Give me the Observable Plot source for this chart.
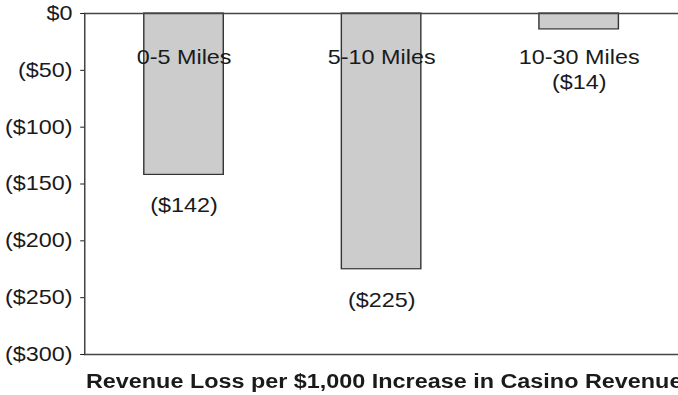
<!DOCTYPE html>
<html>
<head>
<meta charset="utf-8">
<script src="https://cdn.jsdelivr.net/npm/d3@7"></script>
<script src="https://cdn.jsdelivr.net/npm/@observablehq/plot@0.6"></script>
<style>
  html, body { margin: 0; padding: 0; background: #fff; overflow: hidden; }
  #wrap { width: 580px; transform: scaleX(1.169); transform-origin: 0 0; font-family: "Liberation Sans", Arial, sans-serif; color: #1a1a1a; }
  #caption { margin-top: -3px; padding-left: 73.5px; font-size: 20px; font-weight: bold; line-height: 24px; white-space: nowrap; overflow: hidden; width: 506px; }
</style>
</head>
<body>
<div id="wrap">
  <div id="chart"></div>
  <div id="caption">Revenue Loss per $1,000 Increase in Casino Revenue</div>
</div>
<script>
const categories = ["0-5 Miles", "5-10 Miles", "10-30 Miles"];
const values = [-142, -225, -14];
const yTicks = [0, -50, -100, -150, -200, -250, -300];

const fmt = v => v === 0 ? "$0" : `($${Math.abs(v)})`;
const data = categories.map((c, i) => ({cat: c, value: values[i]}));
const isShort = d => Math.abs(d.value) < 40;

const chart = Plot.plot({
  width: 580,
  height: 372,
  marginTop: 13,
  marginBottom: 18,
  marginLeft: 72,
  marginRight: 0,
  style: {fontSize: "20px", fontFamily: "'Liberation Sans', Arial, sans-serif", color: "#1a1a1a", background: "#fff"},
  x: {domain: categories, paddingInner: 0.6, paddingOuter: 0.3, axis: null},
  y: {domain: [-300, 0], ticks: yTicks, tickFormat: fmt, tickSize: 3.4, tickPadding: 7, label: null},
  marks: [
    Plot.barY(data, {x: "cat", y: "value", fill: "#cccccc", stroke: "#333", strokeWidth: 1.2}),
    Plot.ruleY([0, -300], {stroke: "#444", strokeWidth: 1.3}),
    Plot.frame({anchor: "left", stroke: "#444", strokeWidth: 1.3}),
    Plot.text(data, {
      x: "cat", y: () => 0,
      text: d => isShort(d) ? `${d.cat}\n${fmt(d.value)}` : d.cat,
      lineAnchor: "top", dy: 33, lineHeight: 1.25, fill: "#1a1a1a"
    }),
    Plot.text(data.filter(d => !isShort(d)), {
      x: "cat", y: "value", text: d => fmt(d.value), dy: 31, fill: "#1a1a1a"
    })
  ]
});
document.getElementById("chart").appendChild(chart);
</script>
</body>
</html>
